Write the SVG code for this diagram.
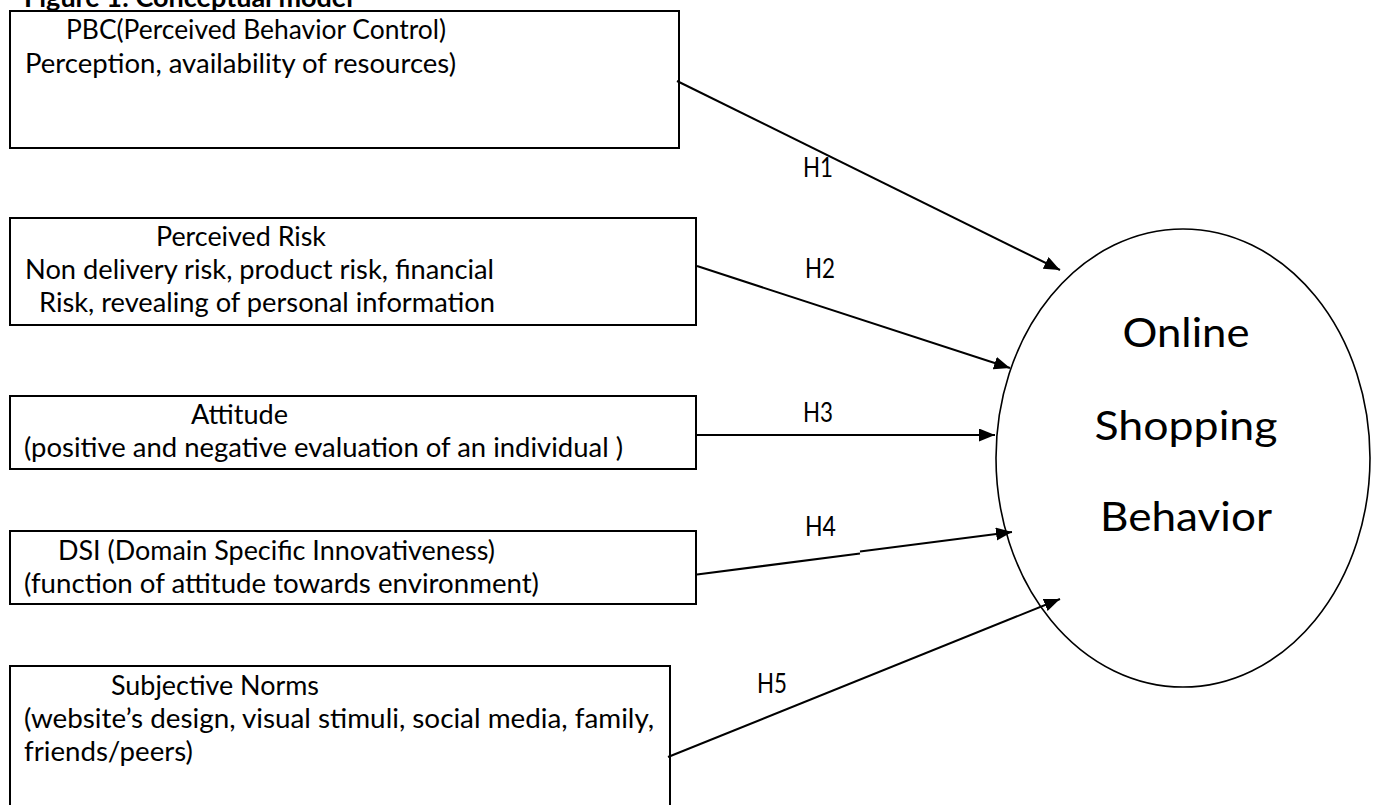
<svg xmlns="http://www.w3.org/2000/svg" width="1374" height="805" viewBox="0 0 1374 805">
<style>
  .box{fill:#fff;stroke:#000;stroke-width:2}
  .t{font-family:Lato,"Liberation Sans",Arial,sans-serif;font-size:26px;fill:#000}
  .big{font-family:Lato,"Liberation Sans",Arial,sans-serif;font-size:40px;fill:#000;text-anchor:middle}
  .title{font-family:Lato,"Liberation Sans",Arial,sans-serif;font-size:26px;font-weight:bold;fill:#000}
  .conn{fill:none;stroke:#000;stroke-width:2;marker-end:url(#arr)}
</style>
<defs>
  <marker id="arr" markerUnits="userSpaceOnUse" markerWidth="18" markerHeight="14" refX="16" refY="6.5" orient="auto" viewBox="0 0 18 14">
    <path d="M0,0 L16,6.5 L0,13 z" fill="#000"/>
  </marker>
</defs>
<rect width="1374" height="805" fill="#fff"/>
<text class="title" x="24" y="7" textLength="329" lengthAdjust="spacingAndGlyphs">Figure 1: Conceptual model</text>

<g id="pbc">
  <rect class="box" x="10" y="11" width="669" height="137"/>
  <text class="t" x="66" y="39" textLength="380" lengthAdjust="spacingAndGlyphs">PBC(Perceived Behavior Control)</text>
  <text class="t" x="25" y="73" textLength="431" lengthAdjust="spacingAndGlyphs">Perception, availability of resources)</text>
</g>
<g id="risk">
  <rect class="box" x="10" y="218" width="686" height="107"/>
  <text class="t" x="156" y="246" textLength="170" lengthAdjust="spacingAndGlyphs">Perceived Risk</text>
  <text class="t" x="25" y="279" textLength="469" lengthAdjust="spacingAndGlyphs">Non delivery risk, product risk, financial</text>
  <text class="t" x="39" y="312" textLength="456" lengthAdjust="spacingAndGlyphs">Risk, revealing of personal information</text>
</g>
<g id="attitude">
  <rect class="box" x="10" y="396" width="686" height="73"/>
  <text class="t" x="191" y="424" textLength="97" lengthAdjust="spacingAndGlyphs">Attitude</text>
  <text class="t" x="24" y="457" textLength="599" lengthAdjust="spacingAndGlyphs">(positive and negative evaluation of an individual )</text>
</g>
<g id="dsi">
  <rect class="box" x="10" y="531" width="686" height="73"/>
  <text class="t" x="58" y="560" textLength="437" lengthAdjust="spacingAndGlyphs">DSI (Domain Specific Innovativeness)</text>
  <text class="t" x="24" y="593" textLength="515" lengthAdjust="spacingAndGlyphs">(function of attitude towards environment)</text>
</g>
<g id="norms">
  <rect class="box" x="10" y="666" width="660" height="160"/>
  <text class="t" x="111" y="695" textLength="208" lengthAdjust="spacingAndGlyphs">Subjective Norms</text>
  <text class="t" x="24" y="728" textLength="630" lengthAdjust="spacingAndGlyphs">(website’s design, visual stimuli, social media, family,</text>
  <text class="t" x="24" y="761" textLength="169" lengthAdjust="spacingAndGlyphs">friends/peers)</text>
</g>
<g id="osb">
  <ellipse cx="1183" cy="458" rx="187" ry="229" fill="#fff" stroke="#000" stroke-width="1.6"/>
  <text class="big" x="1186" y="347" textLength="127" lengthAdjust="spacingAndGlyphs">Online</text>
  <text class="big" x="1186" y="440" textLength="183" lengthAdjust="spacingAndGlyphs">Shopping</text>
  <text class="big" x="1186" y="531" textLength="172" lengthAdjust="spacingAndGlyphs">Behavior</text>
</g>
<g id="connectors">
  <path class="conn" d="M677,81 L1060,270"/>
  <path class="conn" d="M697,266 L1010,368"/>
  <path class="conn" d="M697,435 L995,435"/>
  <path class="conn" d="M697,574.5 L860,553.5 M860,551.5 L1012,532"/>
  <path class="conn" d="M668,757 L1060,599"/>
  <text class="t" x="803" y="177" textLength="30" lengthAdjust="spacingAndGlyphs">H1</text>
  <text class="t" x="805" y="278" textLength="30" lengthAdjust="spacingAndGlyphs">H2</text>
  <text class="t" x="803" y="422" textLength="30" lengthAdjust="spacingAndGlyphs">H3</text>
  <text class="t" x="805" y="536" textLength="31" lengthAdjust="spacingAndGlyphs">H4</text>
  <text class="t" x="757" y="693" textLength="30" lengthAdjust="spacingAndGlyphs">H5</text>
</g>
</svg>
